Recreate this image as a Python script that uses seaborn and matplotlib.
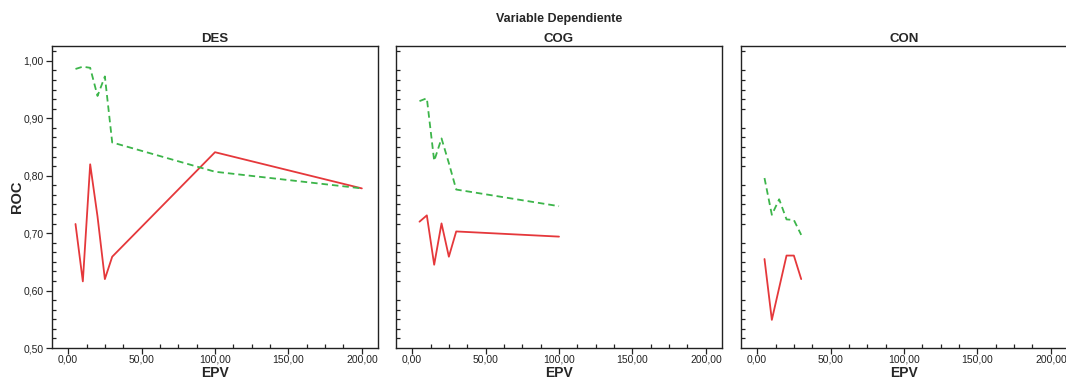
import numpy as np
import pandas as pd
import matplotlib
matplotlib.use("Agg")
import matplotlib.pyplot as plt
from matplotlib.ticker import MultipleLocator, FuncFormatter
import seaborn as sns

# ROC by EPV for each dependent variable, two series per panel
panels = ["DES", "COG", "CON"]

des_epv = [5, 10, 15, 20, 25, 30, 100, 200]
des_solid = [0.716, 0.616, 0.820, 0.729, 0.620, 0.659, 0.841, 0.778]
des_dashed = [0.986, 0.990, 0.988, 0.939, 0.973, 0.858, 0.807, 0.778]

cog_epv = [5, 10, 15, 20, 25, 30, 100]
cog_solid = [0.720, 0.731, 0.645, 0.717, 0.659, 0.703, 0.694]
cog_dashed = [0.930, 0.935, 0.826, 0.865, 0.822, 0.776, 0.747]

con_epv = [5, 10, 15, 20, 25, 30]
con_solid = [0.655, 0.549, 0.605, 0.661, 0.661, 0.620]
con_dashed = [0.796, 0.732, 0.759, 0.724, 0.723, 0.697]

palette = {"A": "#e5383b", "B": "#3cb54a"}
dashes = {"A": "", "B": (3.6, 2.2)}

frames = []
for name, epv, s, d in [("DES", des_epv, des_solid, des_dashed),
                        ("COG", cog_epv, cog_solid, cog_dashed),
                        ("CON", con_epv, con_solid, con_dashed)]:
    frames.append(pd.DataFrame({"panel": name, "EPV": epv, "ROC": s, "serie": "A"}))
    frames.append(pd.DataFrame({"panel": name, "EPV": epv, "ROC": d, "serie": "B"}))
df = pd.concat(frames, ignore_index=True)

sns.set_style("white")
plt.rcParams["font.family"] = ["Liberation Sans", "DejaVu Sans"]

W, H = 1066, 380
fig = plt.figure(figsize=(W / 100, H / 100), dpi=100)

lefts = [52, 396, 741]
width = 326
top, bottom = 46, 348
ph = bottom - top

comma = FuncFormatter(lambda v, p: f"{v:.2f}".replace(".", ","))

for i, (name, left) in enumerate(zip(panels, lefts)):
    ax = fig.add_axes([left / W, 1 - bottom / H, width / W, ph / H])
    sub = df[df["panel"] == name]
    sns.lineplot(data=sub, x="EPV", y="ROC", hue="serie", style="serie",
                 palette=palette, dashes=dashes, linewidth=1.3,
                 legend=False, ax=ax, sort=False)
    ax.set_xlim(-11, 211)
    ax.set_ylim(0.5, 1.026)
    ax.xaxis.set_major_locator(MultipleLocator(50))
    ax.xaxis.set_minor_locator(MultipleLocator(12.5))
    ax.yaxis.set_major_locator(MultipleLocator(0.1))
    ax.yaxis.set_minor_locator(MultipleLocator(0.1 / 6))
    ax.xaxis.set_major_formatter(comma)
    ax.yaxis.set_major_formatter(comma)
    ax.tick_params(axis="x", which="major", direction="out", length=4, width=0.9,
                   labelsize=7.5, pad=1, colors="#222222", bottom=True)
    ax.tick_params(axis="x", which="minor", direction="in", length=3, width=0.9,
                   bottom=True, colors="#222222")
    ax.tick_params(axis="y", which="minor", direction="in", length=3, width=0.9,
                   left=True, colors="#222222")
    if i == 0:
        ax.tick_params(axis="y", which="major", direction="out", length=4, width=0.9,
                       labelsize=7.5, pad=2, colors="#222222", left=True)
        ax.set_ylabel("ROC", fontsize=10.5, fontweight="bold")
        ax.yaxis.set_label_coords(-(52 - 24) / width, 0.5)
    else:
        ax.tick_params(axis="y", which="major", left=False, labelleft=False)
        ax.set_ylabel("")
    ax.set_xlabel("EPV", fontsize=10, fontweight="bold")
    ax.xaxis.set_label_coords(0.5, -(373 - bottom) / ph)
    ax.xaxis.label.set_va("center")
    ax.set_title(name, fontsize=9.5, fontweight="bold", pad=3)
    for sp in ax.spines.values():
        sp.set_visible(True)
        sp.set_color("#222222")
        sp.set_linewidth(1.0)

fig.text(559.5 / W, 1 - 19 / H, "Variable Dependiente", ha="center", va="center",
         fontsize=9, fontweight="bold")

fig.savefig("out.png", dpi=100)
